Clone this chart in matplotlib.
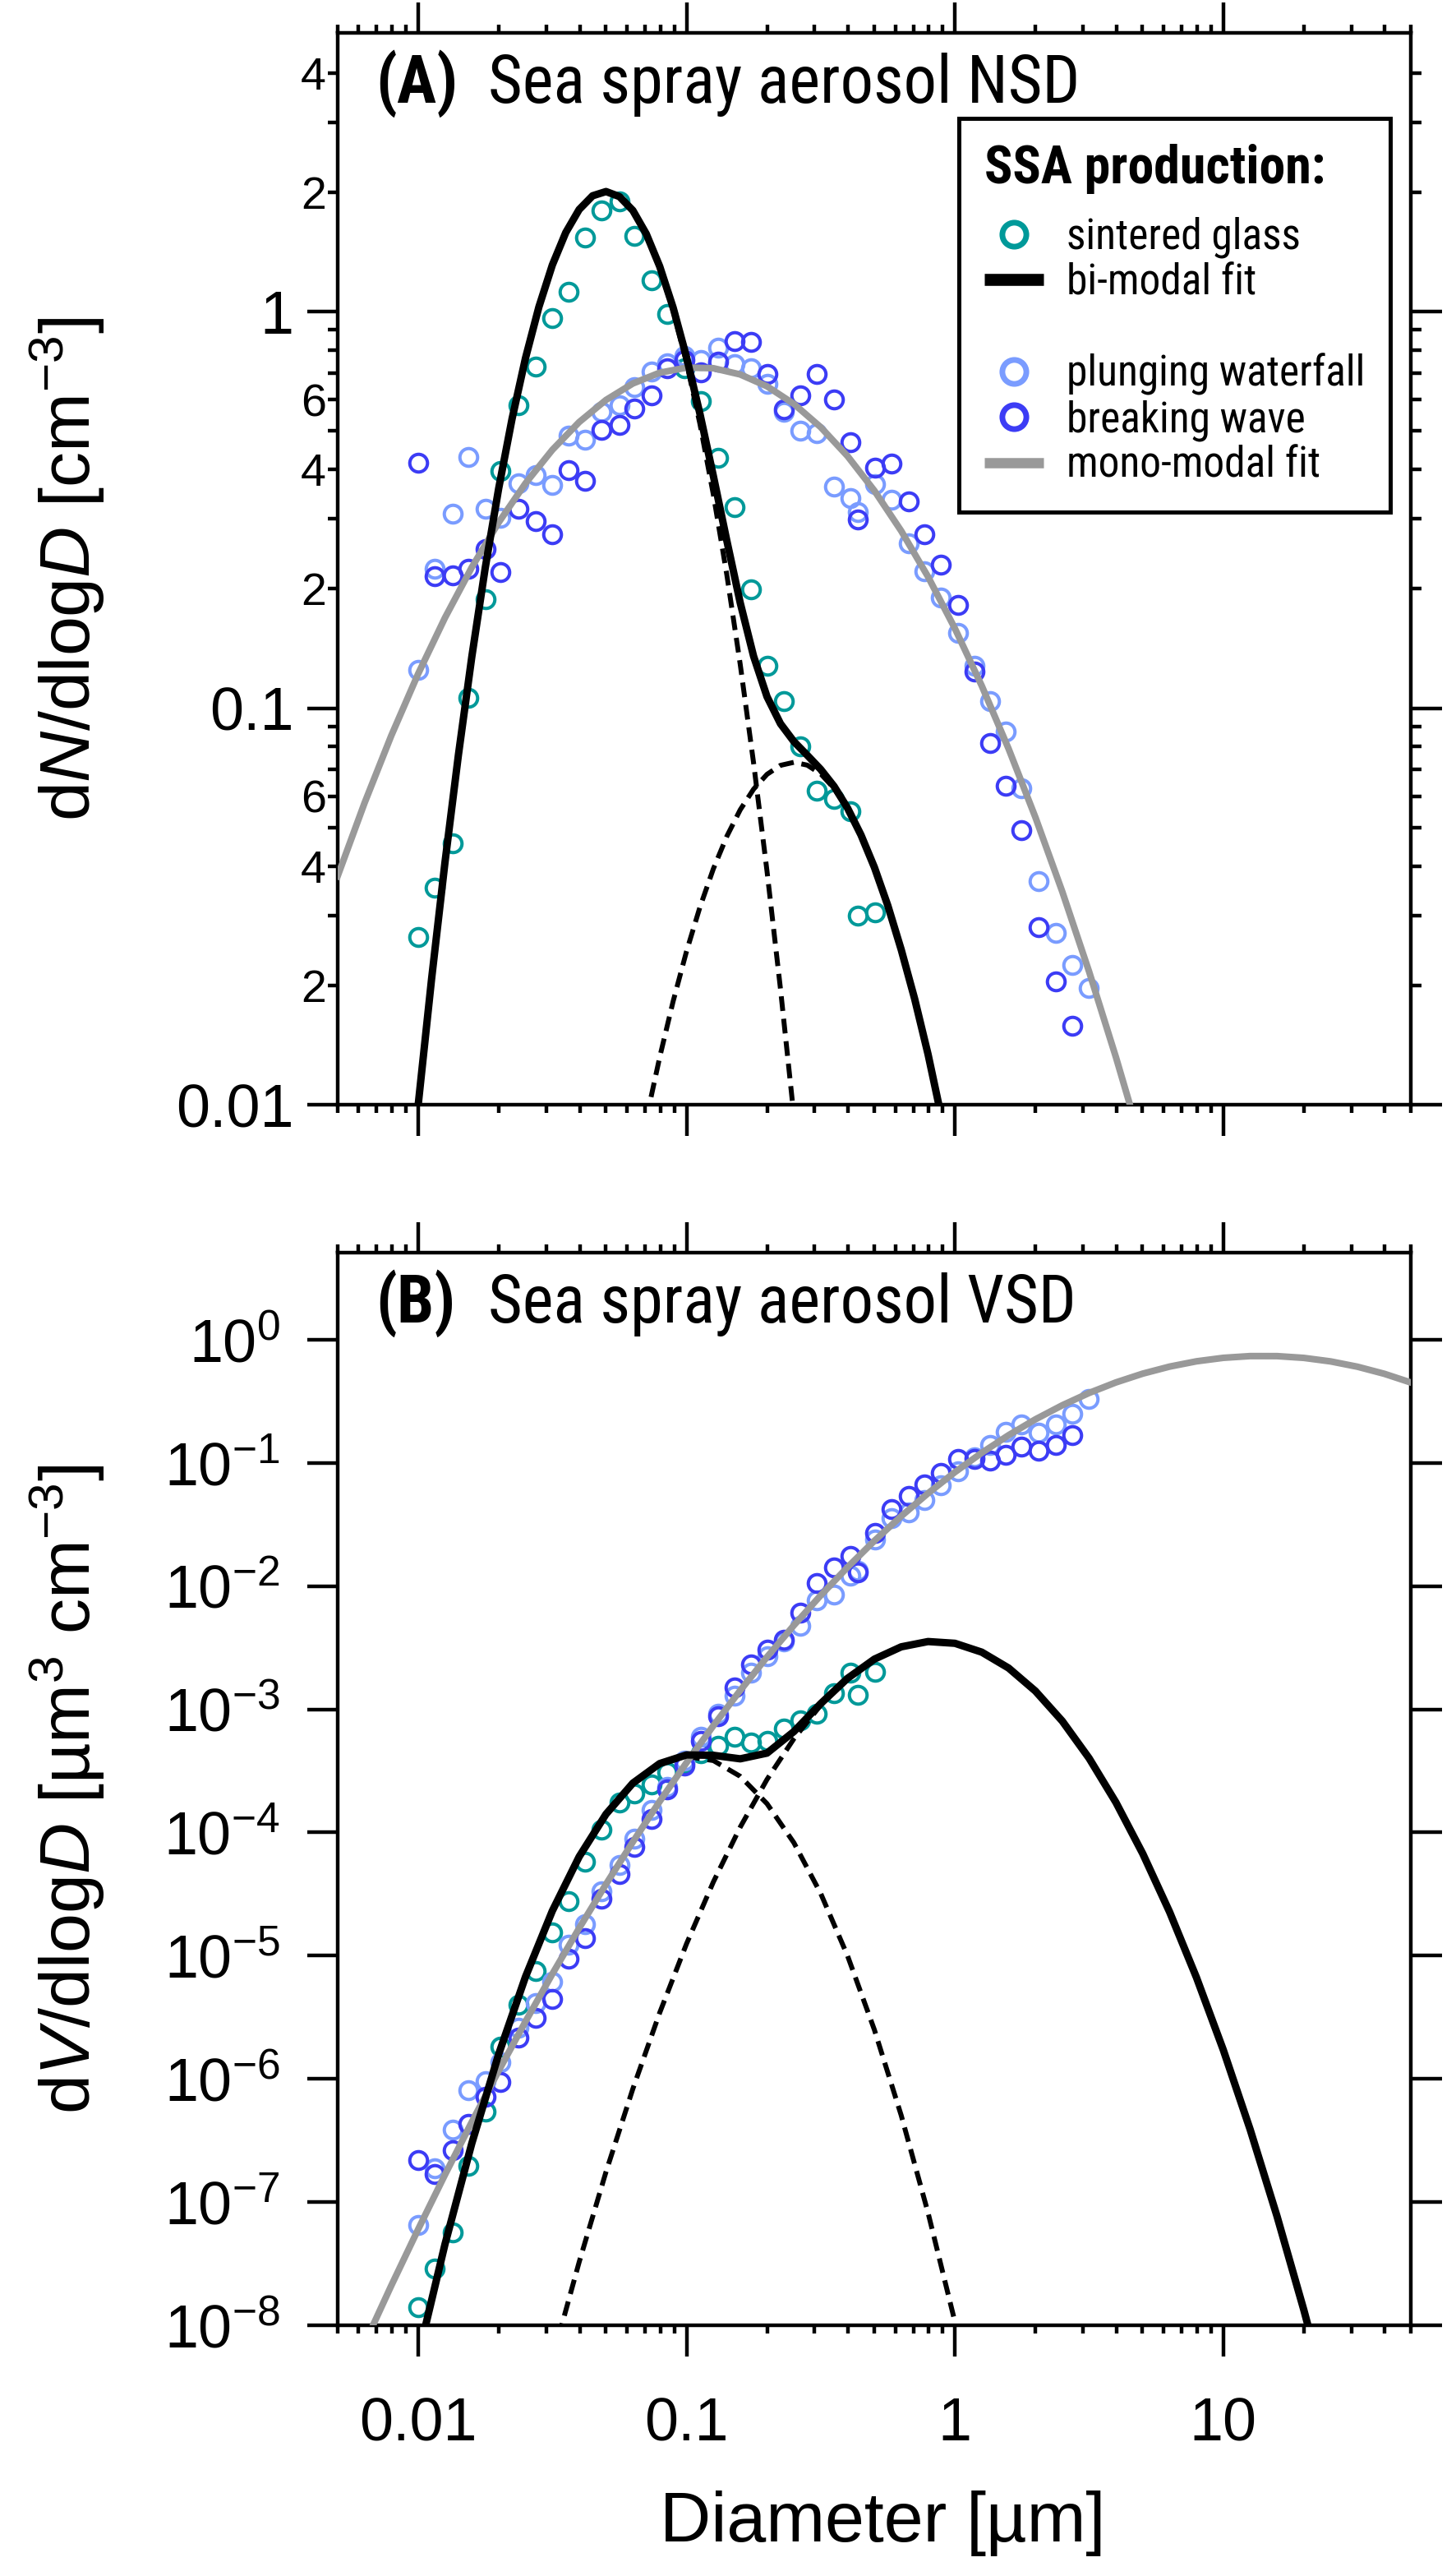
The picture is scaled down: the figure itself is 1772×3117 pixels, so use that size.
import numpy as np
import matplotlib
matplotlib.use('Agg')
import matplotlib.pyplot as plt
from matplotlib.lines import Line2D
from matplotlib.font_manager import FontProperties
from matplotlib.ticker import FixedLocator, FixedFormatter, LogLocator, NullFormatter, NullLocator

# ---------------- data ----------------
# particle diameters [um]: SMPS bins and the larger (APS) bins
d_smps = [0.0100, 0.01153, 0.01343, 0.01542, 0.01782, 0.02023, 0.02360, 0.02735, 0.03162,
          0.03639, 0.04188, 0.04831, 0.05636, 0.06412, 0.07396, 0.08453, 0.09817, 0.1132,
          0.1312, 0.1510, 0.1734, 0.2000, 0.2312, 0.2661, 0.3055, 0.3548, 0.4093]
d_aps = [0.4345, 0.5035, 0.5808, 0.6714, 0.7679, 0.8844, 1.029, 1.181, 1.352, 1.545,
         1.774, 2.056, 2.370, 2.733, 3.148]

# sintered glass (teal)
glass_nsd = [0.0265, 0.0352, 0.0457, 0.106, 0.188, 0.396, 0.580, 0.728, 0.963, 1.12,
             1.54, 1.80, 1.90, 1.55, 1.20, 0.987, 0.72, 0.595, 0.427, 0.322, 0.199,
             0.128, 0.104, 0.080, 0.062, 0.059, 0.055]
glass_nsd_aps = [0.030, 0.0305]
glass_vsd = [1.406e-8, 2.877e-8, 5.649e-8, 1.984e-7, 5.458e-7, 1.832e-6, 3.990e-6, 7.534e-6,
             1.556e-5, 2.786e-5, 5.821e-5, 1.050e-4, 1.738e-4, 2.065e-4, 2.455e-4, 3.090e-4,
             3.664e-4, 4.385e-4, 5.058e-4, 5.970e-4, 5.383e-4, 5.521e-4, 6.950e-4, 8.110e-4,
             9.226e-4, 1.352e-3, 1.986e-3]
glass_vsd_aps = [1.318e-3, 2.018e-3]

# plunging waterfall (light blue)
waterfall_nsd = [0.125, 0.225, 0.309, 0.430, 0.318, 0.302, 0.369, 0.387, 0.366, 0.487,
                 0.476, 0.558, 0.58, 0.644, 0.708, 0.74, 0.773, 0.755, 0.811, 0.737,
                 0.720, 0.659, 0.56, 0.502, 0.493, 0.363, 0.338]
waterfall_nsd_aps = [0.313, 0.368, 0.336, 0.261, 0.221, 0.190, 0.155, 0.128, 0.104, 0.0875,
                     0.0628, 0.0366, 0.0271, 0.0225, 0.0197]
waterfall_vsd = [6.501e-8, 1.888e-7, 3.899e-7, 8.147e-7, 9.528e-7, 1.355e-6, 2.594e-6,
                 4.140e-6, 6.109e-6, 1.233e-5, 1.816e-5, 3.311e-5, 5.445e-5, 8.974e-5,
                 1.535e-4, 2.344e-4, 3.828e-4, 5.970e-4, 9.226e-4, 1.285e-3, 1.986e-3,
                 2.704e-3, 3.548e-3, 4.742e-3, 7.709e-3, 8.511e-3, 1.213e-2]
waterfall_vsd_aps = [1.343e-2, 2.382e-2, 3.584e-2, 3.972e-2, 5.000e-2, 6.622e-2, 8.570e-2,
                     0.1104, 0.1393, 0.1799, 0.2046, 0.1754, 0.2046, 0.2509, 0.3327]

# breaking wave (blue)
wave_nsd = [0.416, 0.215, 0.216, 0.225, 0.252, 0.220, 0.318, 0.297, 0.274, 0.399, 0.374,
            0.503, 0.519, 0.571, 0.614, 0.720, 0.755, 0.703, 0.749, 0.844, 0.837, 0.697,
            0.567, 0.616, 0.698, 0.602, 0.468]
wave_nsd_aps = [0.299, 0.405, 0.414, 0.332, 0.275, 0.230, 0.182, 0.124, 0.0816, 0.0636,
                0.0492, 0.0281, 0.0205, 0.0158]
wave_vsd = [2.203e-7, 1.683e-7, 2.642e-7, 4.325e-7, 7.194e-7, 9.420e-7, 2.163e-6, 3.112e-6,
            4.477e-6, 9.506e-6, 1.390e-5, 2.904e-5, 4.613e-5, 7.691e-5, 1.285e-4, 2.254e-4,
            3.483e-4, 5.521e-4, 8.770e-4, 1.500e-3, 2.317e-3, 3.069e-3, 3.673e-3, 6.124e-3,
            1.059e-2, 1.426e-2, 1.750e-2]
wave_vsd_aps = [1.288e-2, 2.704e-2, 4.227e-2, 5.401e-2, 6.699e-2, 8.344e-2, 0.1079, 0.1079,
                0.1051, 0.1164, 0.1358, 0.1257, 0.1393, 0.1683]

# diameters at which the fit curves were read (0.05 decade apart, 0.005 .. 50 um)
d_grid = [0.00501, 0.00562, 0.00631, 0.00708, 0.00794, 0.00891, 0.0100, 0.01122, 0.01259,
          0.01413, 0.01585, 0.01778, 0.01995, 0.02239, 0.02512, 0.02818, 0.03162, 0.03548,
          0.03981, 0.04467, 0.05012, 0.05623, 0.0631, 0.07079, 0.07943, 0.08913, 0.1,
          0.1122, 0.1259, 0.1413, 0.1585, 0.1778, 0.1995, 0.2239, 0.2512, 0.2818, 0.3162,
          0.3548, 0.3981, 0.4467, 0.5012, 0.5623, 0.631, 0.7079, 0.7943, 0.8913, 1.0,
          1.122, 1.259, 1.413, 1.585, 1.778, 1.995, 2.239, 2.512, 2.818, 3.162, 3.548,
          3.981, 4.467, 5.012, 5.623, 6.31, 7.079, 7.943, 8.913, 10.0, 11.22, 12.59, 14.13,
          15.85, 17.78, 19.95, 22.39, 25.12, 28.18, 31.62, 35.48, 39.81, 44.67, 50.12]

# NSD fits (panel A)
nsd_mode1 = [0.00997, 0.02074, 0.04088, 0.0763, 0.1349, 0.2258, 0.3579, 0.5373, 0.7638,
             1.028, 1.311, 1.583, 1.810, 1.960, 2.009, 1.951, 1.794, 1.562, 1.288, 1.006,
             0.7439, 0.5210, 0.3456, 0.2171, 0.1291, 0.07274, 0.0388, 0.0196, 0.00938]
nsd_mode2 = [0.0092, 0.01317, 0.01822, 0.02437, 0.0315, 0.03936, 0.04751, 0.05543, 0.0625,
             0.06812, 0.07176, 0.07304, 0.07185, 0.06831, 0.06276, 0.05572, 0.04783,
             0.03968, 0.0318, 0.02463, 0.01845, 0.01335, 0.00934]
nsd_bimodal = [0.00997, 0.02074, 0.04088, 0.0763, 0.1349, 0.2258, 0.3579, 0.5373, 0.7638,
               1.028, 1.311, 1.583, 1.810, 1.960, 2.009, 1.951, 1.800, 1.571, 1.301, 1.024,
               0.768, 0.5525, 0.385, 0.2646, 0.1845, 0.1352, 0.1069, 0.0914, 0.0824, 0.0761,
               0.0701, 0.0635, 0.0560, 0.0479, 0.0397, 0.0318, 0.0246, 0.0185, 0.0134, 0.0093]
nsd_monomodal = [0.03768, 0.05762, 0.08524, 0.1221, 0.1691, 0.2267, 0.2940, 0.3691, 0.4482,
                 0.5267, 0.5989, 0.6590, 0.7015, 0.7226, 0.7201, 0.6945, 0.6483, 0.5853,
                 0.5113, 0.4322, 0.3536, 0.2799, 0.2145, 0.1589, 0.1139, 0.07904, 0.05308,
                 0.03448, 0.02167, 0.01318, 0.00776]

# VSD fits (panel B)
vsd_mode1 = [5.56e-9, 4.55e-8, 3.0e-7, 1.585e-6, 6.745e-6, 2.309e-5, 6.36e-5, 1.408e-4,
             2.508e-4, 3.593e-4, 4.139e-4, 3.836e-4, 2.858e-4, 1.713e-4, 8.26e-5, 3.2e-5,
             9.98e-6, 2.504e-6, 5.05e-7, 8.19e-8, 1.069e-8, 1.12e-9]
vsd_mode2 = [5.30e-9, 3.26e-8, 1.759e-7, 8.31e-7, 3.44e-6, 1.249e-5, 3.97e-5, 1.105e-4,
             2.697e-4, 5.77e-4, 1.080e-3, 1.774e-3, 2.551e-3, 3.215e-3, 3.549e-3, 3.434e-3,
             2.911e-3, 2.163e-3, 1.407e-3, 8.03e-4, 4.01e-4, 1.755e-4, 6.73e-5, 2.263e-5,
             6.66e-6, 1.72e-6, 3.89e-7, 7.70e-8, 1.336e-8, 2.03e-9]
vsd_bimodal = [5.56e-9, 4.55e-8, 3.0e-7, 1.585e-6, 6.745e-6, 2.31e-5, 6.363e-5, 1.41e-4,
               2.516e-4, 3.627e-4, 4.264e-4, 4.233e-4, 3.963e-4, 4.41e-4, 6.596e-4, 1.112e-3,
               1.784e-3, 2.554e-3, 3.215e-3, 3.549e-3, 3.434e-3, 2.911e-3, 2.163e-3, 1.407e-3,
               8.03e-4, 4.01e-4, 1.755e-4, 6.73e-5, 2.263e-5, 6.66e-6, 1.72e-6, 3.89e-7,
               7.70e-8, 1.336e-8, 2.03e-9]
vsd_monomodal = [7.07e-9, 2.097e-8, 6.01e-8, 1.668e-7, 4.476e-7, 1.163e-6, 2.922e-6, 7.107e-6,
                 1.673e-5, 3.807e-5, 8.39e-5, 1.789e-4, 3.69e-4, 7.363e-4, 1.422e-3, 2.658e-3,
                 4.806e-3, 8.41e-3, 1.4235e-2, 2.332e-2, 3.697e-2, 5.67e-2, 8.415e-2, 0.1208,
                 0.1679, 0.2258, 0.2936, 0.3697, 0.4503, 0.5307, 0.6052, 0.6679, 0.7129,
                 0.7366, 0.7363, 0.7122, 0.6668, 0.6038, 0.5291, 0.4486]

# ticks and labels
x_ticks = [0.01, 0.1, 1, 10]
x_tick_labels = ['0.01', '0.1', '1', '10']
ya_ticks = [0.01, 0.1, 1]
ya_tick_labels = ['0.01', '0.1', '1']
ya_minor_ticks = [0.02, 0.03, 0.04, 0.05, 0.06, 0.07, 0.08, 0.09,
                  0.2, 0.3, 0.4, 0.5, 0.6, 0.7, 0.8, 0.9, 2, 3, 4]
ya_minor_labels = ['2', '', '4', '', '6', '', '', '',
                   '2', '', '4', '', '6', '', '', '', '2', '', '4']
yb_ticks = [1e-8, 1e-7, 1e-6, 1e-5, 1e-4, 1e-3, 1e-2, 1e-1, 1e0]
yb_tick_labels = [r'$10^{-8}$', r'$10^{-7}$', r'$10^{-6}$', r'$10^{-5}$', r'$10^{-4}$',
                  r'$10^{-3}$', r'$10^{-2}$', r'$10^{-1}$', r'$10^{0}$']
legend_labels = ['sintered glass', 'bi-modal fit', ' ', 'plunging waterfall',
                 'breaking wave', 'mono-modal fit']

# colours
c_glass = '#009999'
c_waterfall = '#7a9cff'
c_wave = '#3c3cf5'
c_gray = '#999999'

NARROW = ['Roboto Condensed', 'Archivo Narrow', 'Liberation Sans', 'DejaVu Sans']

plt.rcParams['font.family'] = ['Liberation Sans', 'DejaVu Sans']
plt.rcParams['mathtext.fontset'] = 'custom'
plt.rcParams['mathtext.rm'] = 'Liberation Sans'
plt.rcParams['mathtext.it'] = 'Liberation Sans:italic'
plt.rcParams['mathtext.bf'] = 'Liberation Sans:bold'


def markers(ax, d, v, color, z):
    ax.plot(d, v, ls='none', marker='o', ms=15.5, mfc='none', mec=color, mew=2.9,
            zorder=z, clip_on=False)


def curves(ax, dm1, m1, dm2, m2, dbi, bi, dmono, mono):
    dash = (0, (3.0, 1.6))
    ax.plot(dm1, m1, color='k', lw=4.3, ls=dash, zorder=3)
    ax.plot(dm2, m2, color='k', lw=4.3, ls=dash, zorder=3)
    ax.plot(dmono, mono, color=c_gray, lw=5.8, zorder=3.5)
    ax.plot(dbi, bi, color='k', lw=6.5, zorder=4)


def style_axes(ax):
    ax.set_xscale('log')
    ax.set_yscale('log')
    ax.set_xlim(0.005, 50)
    ax.xaxis.set_major_locator(FixedLocator(x_ticks))
    ax.xaxis.set_minor_locator(LogLocator(base=10, subs=np.arange(2, 10), numticks=20))
    ax.xaxis.set_minor_formatter(NullFormatter())
    ax.tick_params(which='both', direction='out', top=True, right=True, width=3.2)
    ax.tick_params(which='major', length=27)
    ax.tick_params(axis='x', which='minor', length=7)
    ax.tick_params(axis='y', which='minor', length=9)
    for s in ax.spines.values():
        s.set_linewidth(3.2)


def panel_title(ax, tag, text):
    ax.text(0.0356, 0.935, tag, transform=ax.transAxes, family=NARROW,
            weight='bold', fontsize=58, va='baseline')
    ax.text(0.1405, 0.935, text, transform=ax.transAxes,
            family=NARROW, fontsize=58, va='baseline')


fig = plt.figure(figsize=(17.72, 31.17), dpi=100)
ax_a = fig.add_axes([0.2317, 0.5688, 0.7373, 0.4184])
ax_b = fig.add_axes([0.2317, 0.0924, 0.7373, 0.4187])

# ---- (A) number size distribution ----
markers(ax_a, d_smps + d_aps[:2], glass_nsd + glass_nsd_aps, c_glass, 2.0)
markers(ax_a, d_smps + d_aps, waterfall_nsd + waterfall_nsd_aps, c_waterfall, 2.1)
markers(ax_a, d_smps + d_aps[:14], wave_nsd + wave_nsd_aps, c_wave, 2.2)
curves(ax_a, d_grid[6:35], nsd_mode1, d_grid[23:46], nsd_mode2,
       d_grid[6:46], nsd_bimodal, d_grid[0:61:2], nsd_monomodal)

style_axes(ax_a)
ax_a.set_ylim(0.01, 5.05)
ax_a.xaxis.set_major_formatter(NullFormatter())
ax_a.yaxis.set_major_locator(FixedLocator(ya_ticks))
ax_a.yaxis.set_major_formatter(FixedFormatter(ya_tick_labels))
ax_a.yaxis.set_minor_locator(FixedLocator(ya_minor_ticks))
ax_a.yaxis.set_minor_formatter(FixedFormatter(ya_minor_labels))
ax_a.tick_params(axis='y', which='major', labelsize=53, pad=11)
ax_a.tick_params(axis='y', which='minor', labelsize=40, pad=1)
ax_a.set_ylabel(r'd$N$/dlog$D$ [cm$^{-3}$]', fontsize=62)
ax_a.yaxis.set_label_coords(-0.2147, 0.5)
panel_title(ax_a, '(A)', 'Sea spray aerosol NSD')

handles = [
    Line2D([], [], ls='none', marker='o', ms=21, mfc='none', mec=c_glass, mew=5),
    Line2D([], [], color='k', lw=10.5, solid_capstyle='butt'),
    Line2D([], [], ls='none'),
    Line2D([], [], ls='none', marker='o', ms=21, mfc='none', mec=c_waterfall, mew=5),
    Line2D([], [], ls='none', marker='o', ms=21, mfc='none', mec=c_wave, mew=5),
    Line2D([], [], color=c_gray, lw=9, solid_capstyle='butt'),
]
leg = ax_a.legend(handles, legend_labels, loc='upper right', bbox_to_anchor=(0.981, 0.920),
                  borderaxespad=0, title='SSA production:',
                  prop=FontProperties(family=NARROW, size=37),
                  title_fontproperties=FontProperties(family=NARROW, weight='bold', size=46),
                  alignment='left', handlelength=1.4, handletextpad=0.55, borderpad=0.6,
                  labelspacing=0.1, fancybox=False, edgecolor='k', framealpha=1)
leg.get_frame().set_linewidth(3.6)
leg._legend_box.sep = 20  # extra room under the legend title
leg.set_zorder(10)

# ---- (B) volume size distribution ----
markers(ax_b, d_smps + d_aps[:2], glass_vsd + glass_vsd_aps, c_glass, 2.0)
markers(ax_b, d_smps + d_aps, waterfall_vsd + waterfall_vsd_aps, c_waterfall, 2.1)
markers(ax_b, d_smps + d_aps[:14], wave_vsd + wave_vsd_aps, c_wave, 2.2)
curves(ax_b, d_grid[6:49:2], vsd_mode1, d_grid[16:75:2], vsd_mode2,
       d_grid[6:75:2], vsd_bimodal, d_grid[2:81:2], vsd_monomodal)

style_axes(ax_b)
ax_b.set_ylim(1e-8, 5.1)
ax_b.xaxis.set_major_formatter(FixedFormatter(x_tick_labels))
ax_b.tick_params(axis='x', which='major', labelsize=53, pad=35)
ax_b.yaxis.set_major_locator(FixedLocator(yb_ticks))
ax_b.yaxis.set_major_formatter(FixedFormatter(yb_tick_labels))
ax_b.yaxis.set_minor_locator(NullLocator())
ax_b.tick_params(axis='y', which='major', labelsize=53, pad=23)
ax_b.set_ylabel(r'd$V$/dlog$D$ [µm$^{3}$ cm$^{-3}$]', fontsize=62)
ax_b.yaxis.set_label_coords(-0.2147, 0.5)
ax_b.set_xlabel('Diameter [µm]', fontsize=62, va='baseline')
ax_b.xaxis.set_label_coords(0.508, -0.2015)
panel_title(ax_b, '(B)', 'Sea spray aerosol VSD')

fig.savefig('out.png', dpi=100)
